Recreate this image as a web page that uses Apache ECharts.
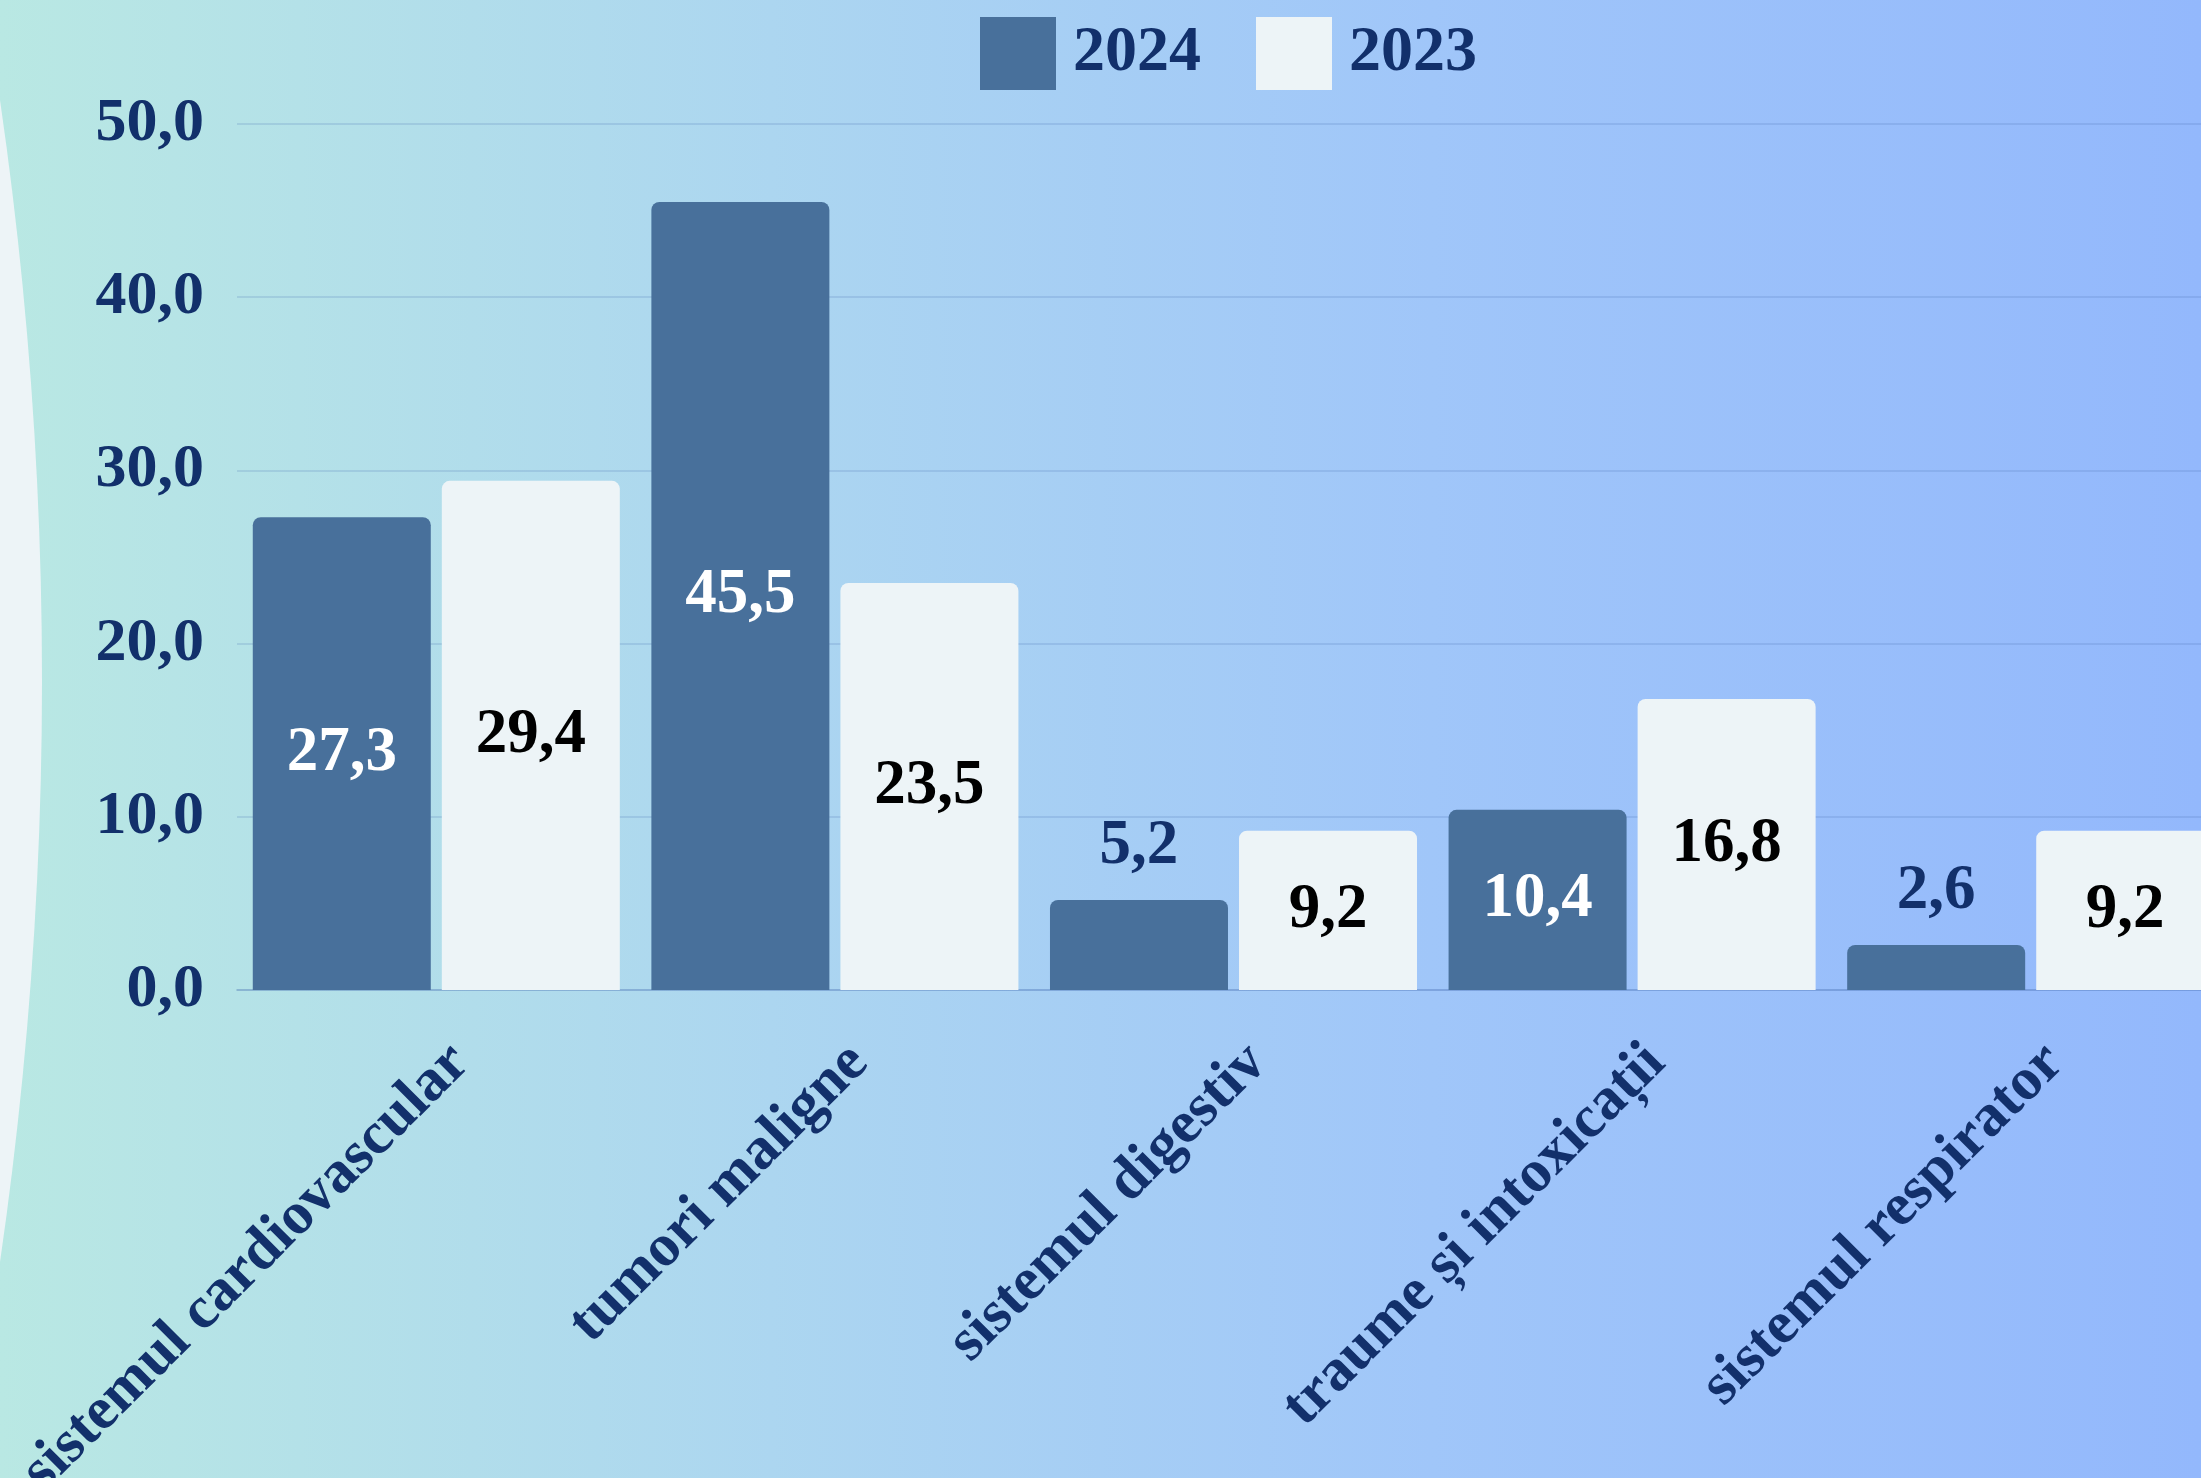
<!DOCTYPE html>
<html>
<head>
<meta charset="utf-8">
<script src="https://cdn.jsdelivr.net/npm/echarts@6/dist/echarts.min.js"></script>
<style>
html,body{margin:0;padding:0;width:2201px;height:1478px;overflow:hidden;}
#chart{width:2201px;height:1478px;}
</style>
</head>
<body>
<div id="chart"></div>
<script>
const categories = ['sistemul cardiovascular', 'tumori maligne', 'sistemul digestiv', 'traume și intoxicații', 'sistemul respirator'];
const values2024 = [27.3, 45.5, 5.2, 10.4, 2.6];
const values2023 = [29.4, 23.5, 9.2, 16.8, 9.2];
const yTicks = [0, 10, 20, 30, 40, 50];

const NAVY = '#12306b';
const FONT = "'Liberation Serif', 'Times New Roman', serif";
const fmt = v => Number(v).toFixed(1).replace('.', ',');

const chart = echarts.init(document.getElementById('chart'));
const data2024 = values2024.map(v => v < 8
  ? { value: v, label: { position: 'top', color: NAVY, distance: 22 } }
  : { value: v });

chart.setOption({
  backgroundColor: {
    type: 'linear', x: 0, y: 0, x2: 1, y2: 0,
    colorStops: [
      { offset: 0, color: '#b9e8e3' },
      { offset: 0.35, color: '#acd6f0' },
      { offset: 0.65, color: '#a0c6f9' },
      { offset: 1, color: '#93b8fc' }
    ]
  },
  graphic: [{
    type: 'circle', z: -10, silent: true,
    shape: { cx: -3998, cy: 681, r: 4040 },
    style: { fill: '#edf4f7' }
  }],
  textStyle: { fontFamily: FONT },
  legend: {
    left: 975, top: 12,
    itemWidth: 76, itemHeight: 73, itemGap: 55,
    icon: 'rect',
    textStyle: { color: NAVY, fontSize: 64, fontWeight: 'bold', fontFamily: FONT, padding: [0, 0, 0, 12] },
    data: ['2024', '2023']
  },
  grid: { left: 237, width: 1993, top: 124, bottom: 488, containLabel: false, outerBoundsMode: 'none' },
  xAxis: {
    type: 'category', data: categories,
    axisTick: { show: false },
    axisLine: { show: true, lineStyle: { color: 'rgba(70,110,180,0.25)', width: 2 } },
    axisLabel: { interval: 0, rotate: 45, margin: 88, padding: [0, -34, 0, 0], color: NAVY, fontSize: 60, fontWeight: 'bold', fontFamily: FONT }
  },
  yAxis: {
    type: 'value', min: yTicks[0], max: yTicks[yTicks.length - 1], interval: 10,
    axisLine: { show: false }, axisTick: { show: false },
    splitLine: { lineStyle: { color: 'rgba(70,110,180,0.18)', width: 2 } },
    axisLabel: { margin: 33, color: NAVY, fontSize: 62, fontWeight: 'bold', fontFamily: FONT, formatter: fmt }
  },
  series: [
    {
      name: '2024', type: 'bar', data: data2024,
      barWidth: 178, barGap: '6.2%',
      itemStyle: { color: '#48709b', borderRadius: [8, 8, 0, 0] },
      label: { show: true, position: 'inside', color: '#ffffff', fontSize: 63, fontWeight: 'bold', fontFamily: FONT, formatter: p => fmt(p.value) }
    },
    {
      name: '2023', type: 'bar', data: values2023,
      barWidth: 178,
      itemStyle: { color: '#edf4f7', borderRadius: [8, 8, 0, 0] },
      label: { show: true, position: 'inside', color: '#000000', fontSize: 63, fontWeight: 'bold', fontFamily: FONT, formatter: p => fmt(p.value) }
    }
  ]
});
</script>
</body>
</html>
